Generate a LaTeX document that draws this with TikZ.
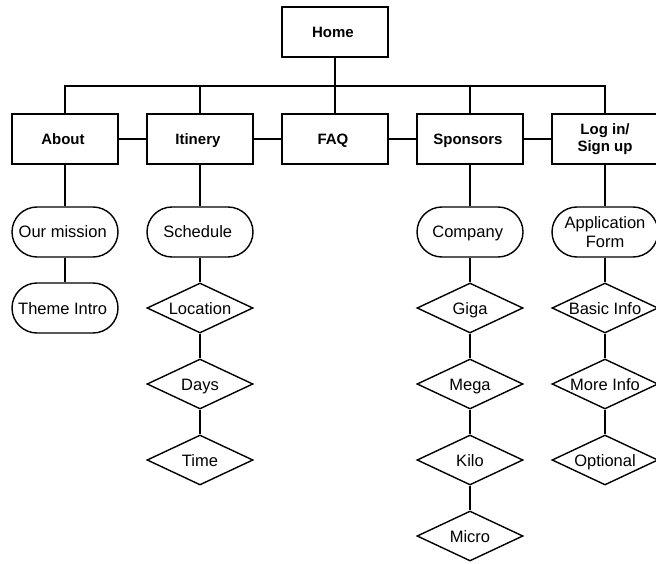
\documentclass[tikz,border=0pt]{standalone}
\usepackage{fontspec}
\setmainfont{Liberation Sans}
\usetikzlibrary{shapes.geometric}

\begin{document}
\begin{tikzpicture}[
		x = 1pt, y = 1pt,
		line width = 1.4pt,
		page/.style = { draw, rectangle, minimum width = 106pt, minimum height = 50pt, align = center, text height = 11pt, text depth = 0pt, font = \fontsize{15}{17}\selectfont\bfseries },
		subpage/.style = { draw, rectangle, rounded corners = 25pt, minimum width = 106pt, minimum height = 50pt, inner sep = 1pt, align = center, text height = 12pt, text depth = 0pt, font = \fontsize{16.5}{19}\selectfont },
		item/.style = { draw, diamond, aspect = 2.12, inner sep = 0pt, minimum width = 106pt, minimum height = 50pt, text height = 12pt, text depth = 0pt, font = \fontsize{16.5}{19}\selectfont },
		twolines/.style = { text height = {}, text depth = {} },
		edge from parent/.style = { draw },
		level 1/.style = { sibling distance = 135pt, level distance = 107pt,
			edge from parent path = { (\tikzparentnode.south) -- ++(0,-28.5) -| (\tikzchildnode.north) } },
		level 2/.style = { level distance = 93pt,
			edge from parent path = { (\tikzparentnode) -- (\tikzchildnode) } },
		level 3/.style = { level distance = 76pt }
	]
	\useasboundingbox (0,0) rectangle (656,-564);
	\node [page] (home) at (335,-32) { Home }
	child {
		node [page] (about) { About }
		child {
			node [subpage] (mission) { Our mission }
			child { node [subpage] (theme) { Theme Intro } }
		}
	}
	child {
		node [page] (itinery) { Itinery }
		child {
			node [subpage] (schedule) { Schedule }
			child {
				node [item] (location) { Location }
				child {
					node [item] (days) { Days }
					child { node [item] (time) { Time } }
				}
			}
		}
	}
	child { node [page] (faq) { FAQ } }
	child {
		node [page] (sponsors) { Sponsors }
		child {
			node [subpage] (company) { Company }
			child {
				node [item] (giga) { Giga }
				child {
					node [item] (mega) { Mega }
					child {
						node [item] (kilo) { Kilo }
						child { node [item] (micro) { Micro } }
					}
				}
			}
		}
	}
	child {
		node [page, twolines] (login) { Log in/\\Sign up }
		child {
			node [subpage, twolines] (appform) { Application\\Form }
			child {
				node [item] (basic) { Basic Info }
				child {
					node [item] (more) { More Info }
					child { node [item] (optional) { Optional } }
				}
			}
		}
	};
	% links between the top level pages
	\draw (about) -- (itinery) (itinery) -- (faq) (faq) -- (sponsors) (sponsors) -- (login);
\end{tikzpicture}
\end{document}
